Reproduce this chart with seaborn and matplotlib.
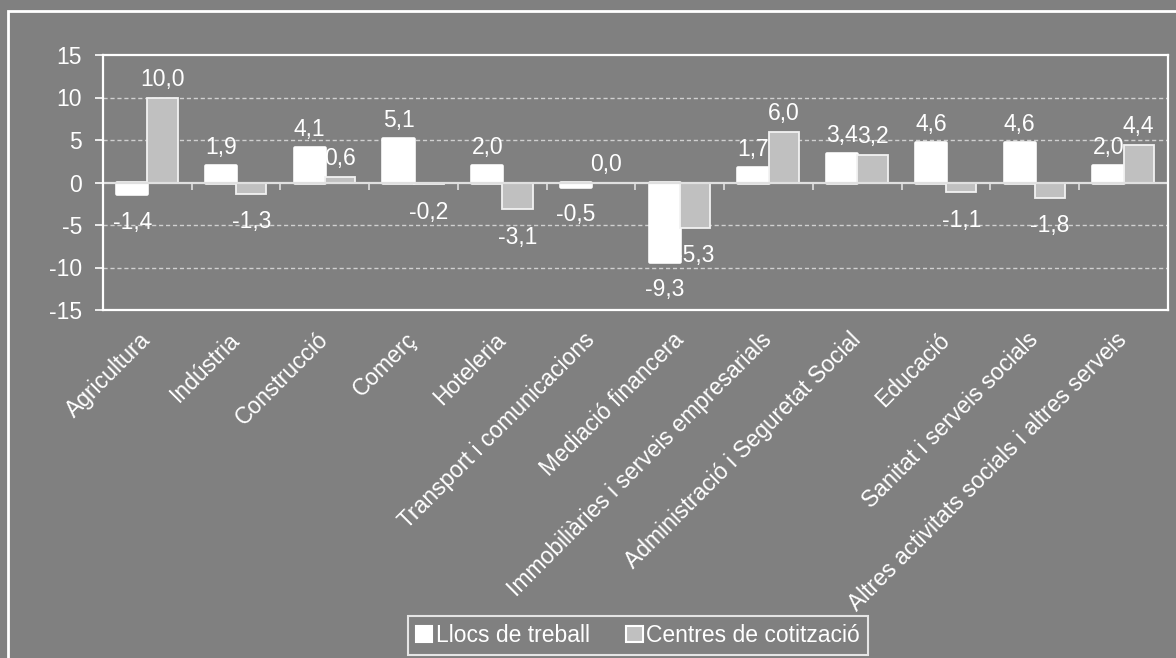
import matplotlib
matplotlib.use("Agg")
import matplotlib.pyplot as plt
import matplotlib.patches as mpatches
import seaborn as sns
import pandas as pd
import numpy as np

categories = ["Agricultura", "Indústria", "Construcció", "Comerç", "Hoteleria",
              "Transport i comunicacions", "Mediació financera",
              "Immobiliàries i serveis empresarials", "Administració i Seguretat Social",
              "Educació", "Sanitat i serveis socials",
              "Altres activitats socials i altres serveis"]
llocs = [-1.4, 1.9, 4.1, 5.1, 2.0, -0.5, -9.3, 1.7, 3.4, 4.6, 4.6, 2.0]
centres = [10.0, -1.3, 0.6, -0.2, -3.1, 0.0, -5.3, 6.0, 3.2, -1.1, -1.8, 4.4]
series_names = ["Llocs de treball", "Centres de cotització"]
yticks = [-15, -10, -5, 0, 5, 10, 15]

BG = "#808080"
GRAY_BAR = "#C0C0C0"
FONT = ["Liberation Sans", "DejaVu Sans"]

df = pd.DataFrame({
    "Sector": categories * 2,
    "Valor": llocs + centres,
    "Serie": [series_names[0]] * len(categories) + [series_names[1]] * len(categories),
})

sns.set_theme(style="white")
plt.rcParams["font.family"] = FONT
plt.rcParams["text.color"] = "white"

fig = plt.figure(figsize=(11.76, 6.58), dpi=100, facecolor=BG)
ax = fig.add_axes([103 / 1176, 1 - 310 / 658, (1168 - 103) / 1176, (310 - 55) / 658])
ax.set_facecolor(BG)

sns.barplot(data=df, x="Sector", y="Valor", hue="Serie", order=categories,
            hue_order=series_names,
            palette={series_names[0]: "white", series_names[1]: GRAY_BAR},
            width=0.68, ax=ax, legend=False, saturation=1)

NUM_FS = 16.5
CAT_FS = 16.5

for cont, vals, idx in zip(ax.containers, [llocs, centres], [0, 1]):
    for rect in cont:
        if idx == 0:
            rect.set_edgecolor("white")
            rect.set_linewidth(2.6)
            rect.set_joinstyle("round")
        else:
            rect.set_edgecolor("#F2F2F2")
            rect.set_linewidth(1.3)
    for rect, v in zip(cont, vals):
        xc = rect.get_x() + rect.get_width() / 2
        txt = f"{v:.1f}".replace(".", ",")
        if v >= 0:
            ax.annotate(txt, (xc, v), xytext=(0, 5), textcoords="offset points",
                        ha="center", va="bottom", fontsize=NUM_FS, color="white")
        else:
            ax.annotate(txt, (xc, v), xytext=(0, -12), textcoords="offset points",
                        ha="center", va="top", fontsize=NUM_FS, color="white")

ax.set_ylim(-15, 15)
ax.set_xlim(-0.5, len(categories) - 0.5)
ax.set_yticks(yticks)
ax.set_yticklabels([str(t) for t in yticks], fontsize=NUM_FS, color="white")
ax.tick_params(axis="y", length=6, width=1.2, color="white", pad=9, left=True)
ax.tick_params(axis="x", length=0, pad=19)
ax.set_xticks(range(len(categories)))
ax.set_xticklabels(categories, rotation=45, ha="right", va="center",
                   rotation_mode="anchor", fontsize=CAT_FS, color="white")
ax.set_xlabel("")
ax.set_ylabel("")

for t in yticks:
    if t not in (0, -15, 15):
        ax.axhline(t, color="#D0D0D0", lw=1.0, ls=(0, (3, 2)), zorder=0.5)
ax.axhline(0, color="#E0E0E0", lw=1.6, zorder=1.5)

sec = ax.secondary_xaxis(0, transform=ax.transData)
sec.set_xticks(np.arange(0.5, len(categories) - 0.5, 1.0))
sec.set_xticklabels([])
sec.tick_params(axis="x", length=5, width=1.2, color="#E0E0E0", direction="out")
for s in sec.spines.values():
    s.set_visible(False)

for s in ax.spines.values():
    s.set_visible(True)
    s.set_color("white")
    s.set_linewidth(1.6)

handles = [
    mpatches.Patch(facecolor="white", edgecolor="white", linewidth=1.5, label=series_names[0]),
    mpatches.Patch(facecolor=GRAY_BAR, edgecolor="white", linewidth=1.5, label=series_names[1]),
]
leg = fig.legend(handles=handles, loc="center", bbox_to_anchor=(638 / 1176, 1 - 635.5 / 658),
                 ncol=2, frameon=True, fancybox=False, fontsize=CAT_FS,
                 handlelength=0.7, handleheight=0.7, handletextpad=0.15,
                 columnspacing=1.6, borderpad=0.35, labelcolor="white")
leg.get_frame().set_facecolor(BG)
leg.get_frame().set_edgecolor("white")
leg.get_frame().set_linewidth(1.5)

fig.patches.append(mpatches.Rectangle((8 / 1176, -0.2), 1.5, 1 - 11 / 658 + 0.2,
                                      transform=fig.transFigure, fill=False,
                                      edgecolor="white", linewidth=2.0, clip_on=False))

fig.savefig("out.png", dpi=100, facecolor=BG)
